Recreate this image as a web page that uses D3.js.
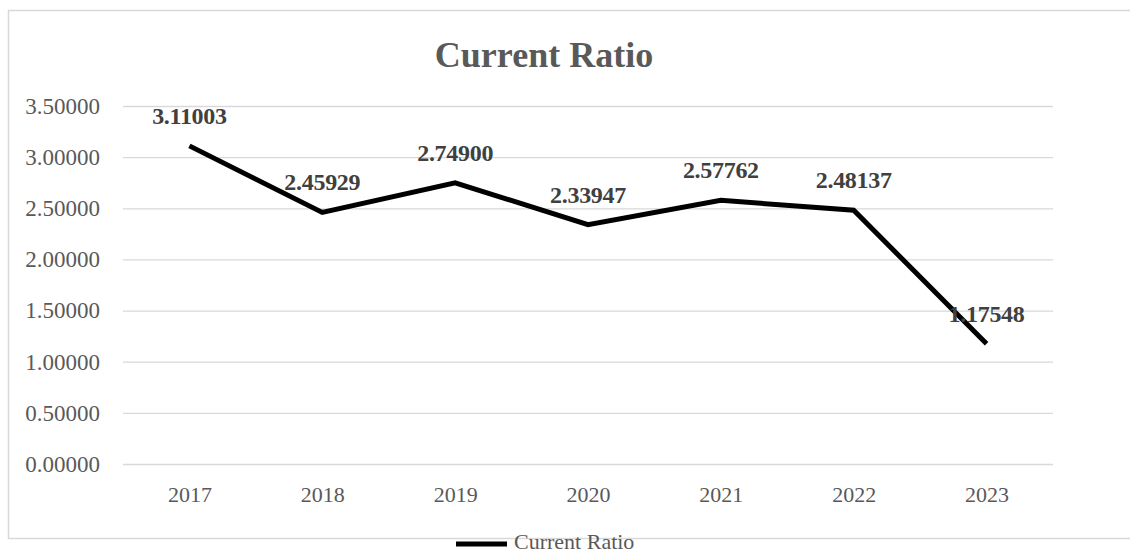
<!DOCTYPE html>
<html>
<head>
<meta charset="utf-8">
<script src="https://cdn.jsdelivr.net/npm/d3@7"></script>
<style>
  body { margin: 0; background: #fff; }
  svg { display: block; font-family: 'Liberation Serif', 'Times New Roman', serif; }
</style>
</head>
<body>
<div id="chart"></div>
<script>
const years = ['2017', '2018', '2019', '2020', '2021', '2022', '2023']
const currentRatio = [3.11003, 2.45929, 2.749, 2.33947, 2.57762, 2.48137, 1.17548]
const yTicks = [0, 0.5, 1, 1.5, 2, 2.5, 3, 3.5]
const seriesName = 'Current Ratio'

const width = 1130
const height = 554
const plot = { LEFT: 123, RIGHT: 1053, TOP: 106, BOTTOM: 464 }

const svg = d3.select('#chart')
  .append('svg')
  .attr('width', width)
  .attr('height', height)

// chart frame (right side runs off the picture)
svg.append('rect')
  .attr('x', 8.5)
  .attr('y', 10.5)
  .attr('width', 1200)
  .attr('height', 528)
  .attr('fill', '#fff')
  .attr('stroke', '#d9d9d9')
  .attr('stroke-width', 1.5)

const x = d3.scalePoint()
  .domain(years)
  .range([plot.LEFT, plot.RIGHT])
  .padding(0.5)

const y = d3.scaleLinear()
  .domain([0, 3.5])
  .range([plot.BOTTOM, plot.TOP])

const yAxis = g => g
  .attr('transform', `translate(${plot.LEFT}, 0)`)
  .call(d3.axisLeft(y)
    .tickValues(yTicks)
    .tickFormat(d3.format('.5f'))
    .tickSizeInner(-(plot.RIGHT - plot.LEFT))
    .tickSizeOuter(0)
    .tickPadding(23))
  .call(g => g.select('.domain').remove())
  .call(g => g.selectAll('line').attr('stroke', '#d9d9d9').attr('stroke-width', 1.3))
  .call(g => g.selectAll('text')
    .attr('fill', '#595959')
    .style('font-size', '23px')
    .style('font-family', "'Liberation Serif', serif"))

const xAxis = g => g
  .attr('transform', `translate(0, ${plot.BOTTOM})`)
  .call(d3.axisBottom(x).tickSize(0).tickPadding(22))
  .call(g => g.select('.domain').remove())
  .call(g => g.selectAll('text')
    .attr('fill', '#595959')
    .style('font-size', '22px')
    .style('font-family', "'Liberation Serif', serif"))

svg.append('g').call(yAxis)
svg.append('g').call(xAxis)

const line = d3.line()
  .x((d, i) => x(years[i]))
  .y(d => y(d))

svg.append('path')
  .datum(currentRatio)
  .attr('d', line)
  .attr('fill', 'none')
  .attr('stroke', '#000')
  .attr('stroke-width', 5)
  .attr('stroke-linejoin', 'miter')

// data labels above the points, kept inside the plot on the right
svg.append('g')
  .selectAll('text')
  .data(currentRatio)
  .join('text')
  .attr('x', (d, i) => x(years[i]))
  .attr('y', d => y(d) - 22)
  .attr('text-anchor', 'middle')
  .attr('fill', '#404040')
  .style('font-size', '24px')
  .style('font-weight', 'bold')
  .style('letter-spacing', '-0.3px')
  .text(d => d3.format('.5f')(d))
  .each(function () {
    const w = this.getComputedTextLength()
    const cx = +d3.select(this).attr('x')
    if (cx + w / 2 > plot.RIGHT) d3.select(this).attr('x', plot.RIGHT - w / 2)
  })

svg.append('text')
  .attr('x', 544)
  .attr('y', 67)
  .attr('text-anchor', 'middle')
  .attr('fill', '#595959')
  .style('font-size', '36px')
  .style('font-weight', 'bold')
  .text(seriesName)

// legend
const legend = svg.append('g')
legend.append('line')
  .attr('x1', 456)
  .attr('x2', 507)
  .attr('y1', 544)
  .attr('y2', 544)
  .attr('stroke', '#000')
  .attr('stroke-width', 5)
legend.append('text')
  .attr('x', 514)
  .attr('y', 549)
  .attr('fill', '#595959')
  .style('font-size', '22px')
  .text(seriesName)
</script>
</body>
</html>
